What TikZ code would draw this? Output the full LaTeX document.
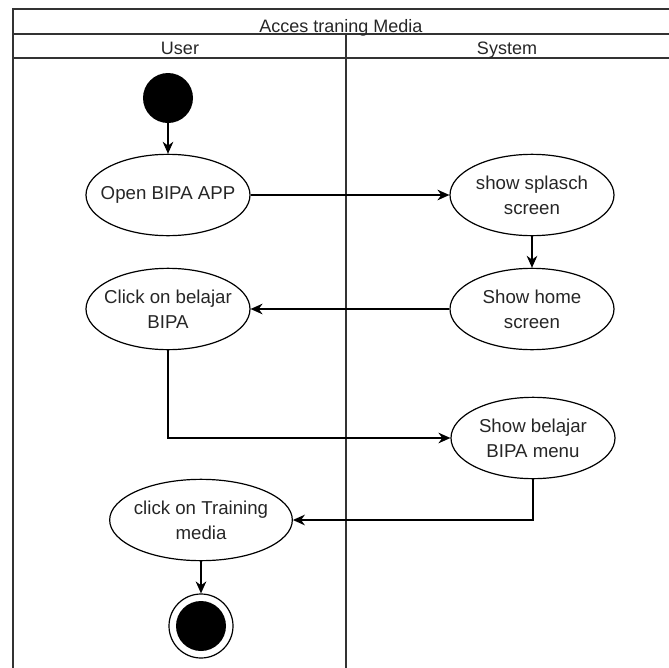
\documentclass[tikz,border=0pt]{standalone}
\usepackage{fontspec}
\setmainfont{Liberation Sans}
\usetikzlibrary{arrows.meta,shapes,positioning}

\begin{document}
\begin{tikzpicture}[x=0.75pt,y=-0.75pt,
  actnode/.style={draw,ellipse,line width=0.9pt,align=center,inner xsep=-15pt,inner ysep=0pt,
    minimum width=123pt,minimum height=61pt,text=black!85,font=\fontsize{14}{18.5}\selectfont},
  startnode/.style={circle,fill=black,minimum size=37.5pt,inner sep=0pt},
  endnode/.style={circle,draw,line width=0.9pt,minimum size=48pt,inner sep=0pt},
  headnode/.style={font=\fontsize{13.5}{16}\selectfont,text=black!85,inner sep=0pt,anchor=base},
  lane/.style={line width=0.9pt,draw=black!80},
  flow/.style={-{Stealth[length=9pt,width=8pt]},line width=0.9pt}
]
\useasboundingbox (0,0) rectangle (669,668);
% swimlanes
\draw[lane] (669,9) -- (13,9) -- (13,668);
\draw[lane] (13,34) -- (669,34);
\draw[lane] (13,58) -- (669,58);
\draw[lane] (346,34) -- (346,668);
\node[headnode] (title) at (341,32) {Acces traning Media};
\node[headnode] (user) at (180,54) {User};
\node[headnode] (system) at (507,54) {System};

\node[startnode] (start) at (168,98) {};
\node[actnode] (open) at (168,195) {Open BIPA APP};
\node[actnode] (splash) at (532,195) {show splasch\\screen};
\node[actnode] (home) at (532,309) {Show home\\screen};
\node[actnode] (click) at (168,309) {Click on belajar\\BIPA};
\node[actnode] (menu) at (533,438) {Show belajar\\BIPA menu};
\node[actnode, minimum width=137pt] (training) at (201,520) {click on Training\\media};
\node[endnode] (end) at (201,626) {};
\node[startnode] (endfill) at (end) {};

\draw[flow] (start) -- (open);
\draw[flow] (open) -- (splash);
\draw[flow] (splash) -- (home);
\draw[flow] (home) -- (click);
\draw[flow] (click.south) |- (menu.west);
\draw[flow] (menu.south) |- (training.east);
\draw[flow] (training) -- (end);
\end{tikzpicture}
\end{document}
